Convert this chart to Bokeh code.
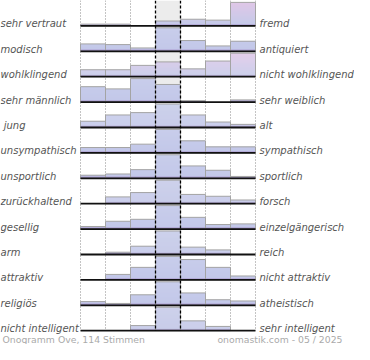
import math
from bokeh.plotting import figure
from bokeh.models import Range1d, ColumnDataSource
from bokeh.core.properties import value
from bokeh.embed import file_html
from bokeh.resources import INLINE

# ---------------- data ----------------
left_labels = ["sehr vertraut", "modisch", "wohlklingend", "sehr männlich", "\u00a0jung",
               "unsympathisch", "unsportlich", "zurückhaltend", "gesellig", "arm",
               "attraktiv", "religiös", "nicht intelligent"]
right_labels = ["fremd", "antiquiert", "nicht wohlklingend", "sehr weiblich", "alt",
                "sympathisch", "sportlich", "forsch", "einzelgängerisch", "reich",
                "nicht attraktiv", "atheistisch", "sehr intelligent"]
# share of votes (%) in the 7 steps of each scale
votes_vertraut = [4, 4, 0, 11, 15, 13, 53]
votes_modisch = [11, 10, 5, 35, 16, 8, 15]
votes_wohlklingend = [8, 8, 13, 17, 9, 18, 27]
votes_maennlich = [21, 18, 32, 24, 2, 0, 3]
votes_jung = [8, 16, 19, 30, 16, 7, 4]
votes_sympathisch = [8, 8, 13, 35, 18, 9, 9]
votes_sportlich = [5, 7, 14, 38, 20, 13, 3]
votes_forsch = [0, 11, 18, 38, 15, 12, 6]
votes_gesellig = [4, 12, 15, 36, 18, 7, 8]
votes_reich = [0, 5, 18, 51, 16, 10, 0]
votes_attraktiv = [0, 7, 16, 30, 26, 16, 5]
votes_religioes = [6, 3, 17, 38, 20, 9, 7]
votes_intelligent = [0, 0, 12, 55, 23, 10, 0]
rows = [votes_vertraut, votes_modisch, votes_wohlklingend, votes_maennlich, votes_jung,
        votes_sympathisch, votes_sportlich, votes_forsch, votes_gesellig, votes_reich,
        votes_attraktiv, votes_religioes, votes_intelligent]
footer_left = "Onogramm Ove, 114 Stimmen"
footer_right = "onomastik.com - 05 / 2025"
pink_rows = {0, 2}   # rows drawn with a pinkish tint

# ---------------- layout / style ----------------
W, H = 354, 344
PX = 25        # px per step column
RY = 25.4      # px per row
X0 = 80        # canvas px of the left plot edge
BAR_MAX = 23.5 # px of the tallest bar in a row
NCOL = 7
NROW = len(rows)


def hexmix(c1, c2, t):
    t = max(0.0, min(1.0, t))
    a = [int(c1[i:i + 2], 16) for i in (1, 3, 5)]
    b = [int(c2[i:i + 2], 16) for i in (1, 3, 5)]
    return "#%02x%02x%02x" % tuple(round(a[k] + (b[k] - a[k]) * t) for k in range(3))


def slice_color(px, pink):
    if px < 1:
        return "#9d8fc4"
    if px < 2:
        return "#b4acd8"
    if pink:
        return hexmix("#c6cae9", "#dec7e7", (px - 2) / 20)
    return hexmix("#c3c8e9", "#c8cdeb", (px - 2) / 20)


p = figure(width=W, height=H, output_backend="svg", toolbar_location=None,
           x_range=Range1d(-X0 / PX, (W - X0) / PX), y_range=Range1d(H / RY, 0),
           x_axis_location=None, y_axis_location=None,
           min_border=0, min_border_left=0, min_border_right=0,
           min_border_top=0, min_border_bottom=0)
p.grid.visible = False
p.outline_line_color = None
p.background_fill_color = "white"
p.border_fill_color = "white"

# middle (neutral) column background
p.quad(left=[3], right=[4], top=[0], bottom=[NROW], fill_color="#ececec", line_color=None)

# dotted column separators
dot_x = [c for c in range(NCOL + 1) if c not in (3, 4)]
p.segment(x0=dot_x, x1=dot_x, y0=[0] * len(dot_x), y1=[NROW] * len(dot_x),
          line_color="#888888", line_width=1, line_dash="1 2")

# bars as stacked 1px slices (vertical gradient)
sl = dict(left=[], right=[], top=[], bottom=[], color=[])
ol = dict(left=[], right=[], top=[], bottom=[])
for r, vals in enumerate(rows):
    base = r + 1
    mx = max(vals)
    for c, v in enumerate(vals):
        h = v / mx * BAR_MAX
        if h <= 0:
            continue
        n = math.ceil(h)
        for i in range(n):
            top_px = min(i + 1, h)
            sl["left"].append(c)
            sl["right"].append(c + 1)
            sl["bottom"].append(base - i / RY)
            sl["top"].append(base - (top_px + 0.2 if top_px < h else top_px) / RY)
            sl["color"].append(slice_color(i, r in pink_rows))
        ol["left"].append(c)
        ol["right"].append(c + 1)
        ol["top"].append(base - h / RY)
        ol["bottom"].append(base)
p.quad(source=ColumnDataSource(sl), left="left", right="right", top="top", bottom="bottom",
       fill_color="color", line_color=None)
p.quad(source=ColumnDataSource(ol), left="left", right="right", top="top", bottom="bottom",
       fill_color=None, line_color="#a4a4a4", line_width=1)

# baselines
bl_y = [r + 1 for r in range(NROW)]
p.segment(x0=[0] * NROW, x1=[NCOL] * NROW, y0=bl_y, y1=bl_y,
          line_color="#111111", line_width=1.8)

# dashed neutral-column borders (on top)
p.segment(x0=[3, 4], x1=[3, 4], y0=[0, 0], y1=[NROW, NROW],
          line_color="black", line_width=1.3, line_dash="3 2")

# labels
ty = [r + 1 - 2 / RY for r in range(NROW)]
p.text(x=[-X0 / PX] * NROW, y=ty, text=left_labels, text_font=value("DejaVu Sans"),
       text_font_style="italic", text_font_size="10px", text_color="#555555",
       text_align="left", text_baseline="alphabetic")
p.text(x=[NCOL + 4 / PX] * NROW, y=ty, text=right_labels, text_font=value("DejaVu Sans"),
       text_font_style="italic", text_font_size="10px", text_color="#555555",
       text_align="left", text_baseline="alphabetic")

# footer
p.text(x=[(2 - X0) / PX], y=[339 / RY], text=[footer_left], text_font=value("DejaVu Sans"),
       text_font_size="9.3px", text_color="#aaaaaa", text_align="left", text_baseline="alphabetic")
p.text(x=[(342 - X0) / PX], y=[339 / RY], text=[footer_right], text_font=value("DejaVu Sans"),
       text_font_size="9.3px", text_color="#aaaaaa", text_align="right", text_baseline="alphabetic")

open("out.html", "w").write(file_html(p, INLINE))
